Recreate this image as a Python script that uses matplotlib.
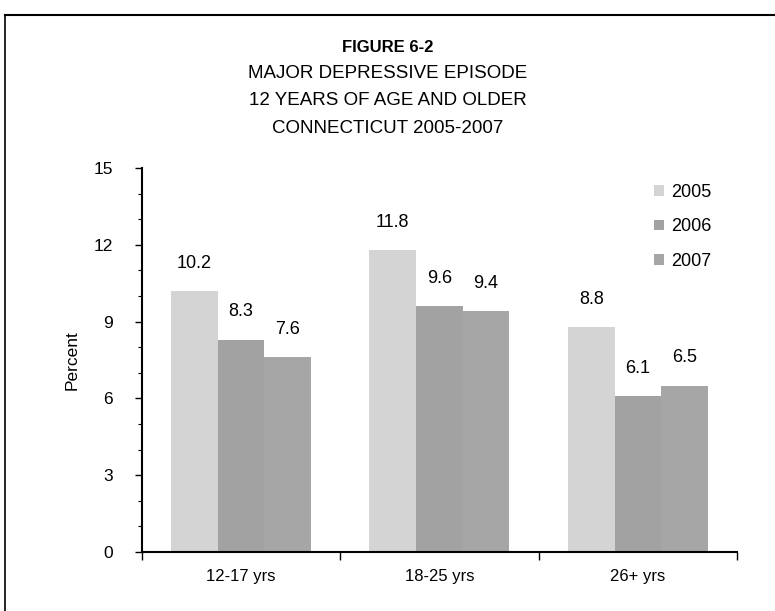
import numpy as np
import matplotlib.pyplot as plt
from matplotlib.lines import Line2D
from matplotlib.ticker import MultipleLocator

plt.rcParams['font.family'] = ['Liberation Sans', 'DejaVu Sans']

groups = ['12-17 yrs', '18-25 yrs', '26+ yrs']
years = ['2005', '2006', '2007']
v2005 = [10.2, 11.8, 8.8]
v2006 = [8.3, 9.6, 6.1]
v2007 = [7.6, 9.4, 6.5]
series = [v2005, v2006, v2007]

colors = ['#d4d4d4', '#a2a2a2', '#a6a6a6']
hatch_colors = ['#b4b4b4', '#808080', '#888888']

fig = plt.figure(figsize=(7.75, 6.11), dpi=100)
ax = fig.add_axes([0.183, 0.0966, 0.768, 0.6284])

x = np.arange(len(groups))
w = 0.235
for i, (vals, yr) in enumerate(zip(series, years)):
    pos = x + (i - 1) * w
    plt.rcParams['hatch.color'] = hatch_colors[i]
    plt.rcParams['hatch.linewidth'] = 0.5
    bars = ax.bar(pos, vals, w, color=colors[i], hatch='....', edgecolor='none',
                  linewidth=0, label=yr)
    for b, v in zip(bars, vals):
        ax.text(b.get_x() + b.get_width() / 2, v + 0.75, f'{v:.1f}',
                ha='center', va='bottom', fontsize=13)

ax.set_xlim(-0.5, 2.5)
ax.set_ylim(0, 15)
ax.yaxis.set_major_locator(MultipleLocator(3))
ax.yaxis.set_minor_locator(MultipleLocator(1))
ax.set_xticks([-0.5, 0.5, 1.5, 2.5])
ax.set_xticklabels([])
ax.set_xticks(x, minor=True)
ax.set_xticklabels(groups, minor=True, fontsize=12)
ax.tick_params(axis='x', which='minor', length=0, pad=12)
ax.tick_params(axis='x', which='major', direction='out', length=6, width=1)
ax.tick_params(axis='y', which='major', direction='out', length=5, width=1,
               labelsize=12.5, pad=16)
ax.tick_params(axis='y', which='minor', direction='out', length=3, width=0.8)
for s in ['top', 'right']:
    ax.spines[s].set_visible(False)
ax.spines['left'].set_linewidth(1.5)
ax.spines['bottom'].set_linewidth(1.5)
ax.set_ylabel('Percent', fontsize=12.5, labelpad=10)

leg = ax.legend(loc='upper right', bbox_to_anchor=(0.985, 1.0), frameon=False,
                fontsize=13, handlelength=0.55, handleheight=0.55,
                handletextpad=0.4, labelspacing=0.95)

fig.text(0.5, 0.923, 'FIGURE 6-2', ha='center', va='center', fontsize=12,
         fontweight='bold')
fig.text(0.5, 0.880, 'MAJOR DEPRESSIVE EPISODE', ha='center', va='center',
         fontsize=13.5)
fig.text(0.5, 0.835, '12 YEARS OF AGE AND OLDER', ha='center', va='center',
         fontsize=13.5)
fig.text(0.5, 0.789, 'CONNECTICUT 2005-2007', ha='center', va='center',
         fontsize=13.5)

# page frame: top and left edges
fig.add_artist(Line2D([5 / 775, 1.0], [1 - 15 / 611, 1 - 15 / 611],
                      color='black', lw=1.5, transform=fig.transFigure))
fig.add_artist(Line2D([5 / 775, 5 / 775], [0, 1 - 15 / 611],
                      color='black', lw=1.2, transform=fig.transFigure))

fig.savefig('out.png', dpi=100)
